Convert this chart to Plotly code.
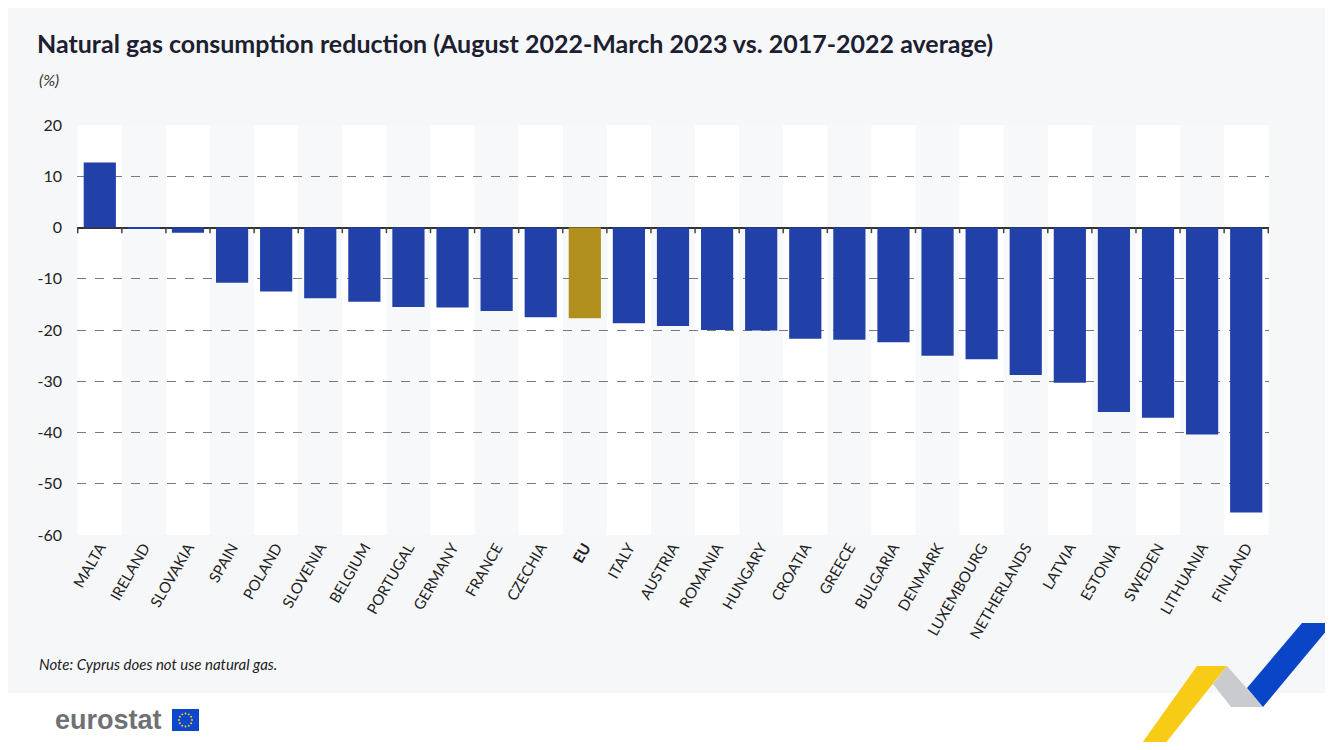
import math
import plotly.graph_objects as go

countries = ['MALTA', 'IRELAND', 'SLOVAKIA', 'SPAIN', 'POLAND', 'SLOVENIA', 'BELGIUM',
             'PORTUGAL', 'GERMANY', 'FRANCE', 'CZECHIA', 'EU', 'ITALY', 'AUSTRIA',
             'ROMANIA', 'HUNGARY', 'CROATIA', 'GREECE', 'BULGARIA', 'DENMARK',
             'LUXEMBOURG', 'NETHERLANDS', 'LATVIA', 'ESTONIA', 'SWEDEN', 'LITHUANIA', 'FINLAND']
reduction = [12.7, -0.2, -1.0, -10.8, -12.5, -13.8, -14.5, -15.5, -15.6, -16.3, -17.5,
             -17.7, -18.7, -19.2, -20.0, -20.1, -21.7, -21.9, -22.4, -25.0, -25.7,
             -28.8, -30.3, -36.0, -37.1, -40.4, -55.6]
y_ticks = [-60, -50, -40, -30, -20, -10, 0, 10, 20]

# the page body has an 8px margin, so the figure sits at (8, 8) of the 1333x750 window
OFF = 8
W, H = 1333 - 2 * OFF, 750 - 2 * OFF
# plot area in window pixels: x 77..1269, y 125..535
L, T = 77 - OFF, 125 - OFF
R, B = W - (1269 - OFF), H - (535 - OFF)
PW, PH = W - L - R, H - T - B


def px(x):
    # window pixel x -> paper
    return (x - OFF - L) / PW


def py(y):
    # window pixel y -> paper
    return (H - B - (y - OFF)) / PH


FONT = "Lato, 'Open Sans', sans-serif"
BLUE = "#2140a8"
GOLD = "#b08f1c"

colors = [GOLD if c == 'EU' else BLUE for c in countries]
ticktext = ['<b>EU</b>' if c == 'EU' else c for c in countries]

fig = go.Figure()
fig.add_trace(go.Bar(x=countries, y=reduction, marker=dict(color=colors, line=dict(width=0)),
                     hovertemplate='%{x}: %{y}%<extra></extra>'))

shapes = []
# footer white strip
shapes.append(dict(type='rect', xref='paper', yref='paper', x0=px(0), x1=px(1333), y0=py(760), y1=py(693),
                   fillcolor='white', line=dict(width=0), layer='below'))
# alternating column bands
for i in range(len(countries)):
    if i % 2 == 0:
        shapes.append(dict(type='rect', xref='x', yref='paper', x0=i - 0.5, x1=i + 0.5, y0=0, y1=1,
                           fillcolor='white', line=dict(width=0), layer='below'))
# tick marks on the zero line at category boundaries
for i in range(len(countries) + 1):
    shapes.append(dict(type='line', xref='x', yref='y', x0=i - 0.5, x1=i - 0.5, y0=0, y1=-1.1,
                       line=dict(color='#444', width=1.5)))


# decorative ribbon bottom right
def path(points):
    return 'M ' + ' L '.join(f'{px(a)},{py(b)}' for a, b in points) + ' Z'


shapes.append(dict(type='path', xref='paper', yref='paper',
                   path=path([(1137, 750), (1160, 750), (1227, 666), (1197, 666)]),
                   fillcolor='#f7cb16', line=dict(width=0)))
shapes.append(dict(type='path', xref='paper', yref='paper',
                   path=path([(1213, 684), (1227, 666), (1263, 707), (1231, 707)]),
                   fillcolor='#c9cbcf', line=dict(width=0)))
shapes.append(dict(type='path', xref='paper', yref='paper',
                   path=path([(1247, 688), (1302, 623), (1333, 623), (1263, 707)]),
                   fillcolor='#0a45c7', line=dict(width=0)))

# EU flag of eurostat logo
shapes.append(dict(type='rect', xref='paper', yref='paper', x0=px(172), x1=px(199), y0=py(731), y1=py(709),
                   fillcolor='#0e47cb', line=dict(width=0)))
for k in range(12):
    a = 2 * math.pi * k / 12
    cx, cy = 185.5 + 6.5 * math.cos(a), 720 + 6.5 * math.sin(a)
    shapes.append(dict(type='circle', xref='paper', yref='paper', x0=px(cx - 0.9), x1=px(cx + 0.9),
                       y0=py(cy + 0.9), y1=py(cy - 0.9), fillcolor='#ffdd00', line=dict(width=0)))

annotations = [
    dict(text='<b>Natural gas consumption reduction (August 2022-March 2023 vs. 2017-2022 average)</b>',
         xref='paper', yref='paper', x=px(35), y=py(43), xanchor='left', yanchor='middle',
         showarrow=False, font=dict(family=FONT, size=25, color='#1c2030')),
    dict(text='<i>(%)</i>', xref='paper', yref='paper', x=px(37), y=py(80), xanchor='left', yanchor='middle',
         showarrow=False, font=dict(family=FONT, size=16, color='#333')),
    dict(text='<i>Note: Cyprus does not use natural gas.</i>', xref='paper', yref='paper', x=px(37), y=py(664),
         xanchor='left', yanchor='middle', showarrow=False, font=dict(family=FONT, size=15, color='#222')),
    dict(text='<b>eurostat</b>', xref='paper', yref='paper', x=px(53), y=py(720), xanchor='left',
         yanchor='middle', showarrow=False, font=dict(family='Liberation Sans, Arial, sans-serif', size=27,
                                                      color='#6f7174')),
]

fig.update_layout(
    width=W, height=H,
    margin=dict(l=L, r=R, t=T, b=B, pad=0),
    paper_bgcolor='#f6f7f9',
    plot_bgcolor='#f7f8f9',
    bargap=0.27,
    showlegend=False,
    shapes=shapes,
    annotations=annotations,
    xaxis=dict(tickvals=countries, ticktext=ticktext, tickangle=-60, showgrid=False, showline=False,
               ticks='', tickfont=dict(family=FONT, size=15, color='#222'), fixedrange=True),
    yaxis=dict(range=[-60, 20], tickvals=y_ticks, ticktext=[str(v) for v in y_ticks],
               showgrid=True, gridcolor='#7a7a7a', griddash='dash',
               gridwidth=1, zeroline=True, zerolinecolor='#333', zerolinewidth=1.5, showline=False,
               ticks='', ticklabelstandoff=14, tickfont=dict(family=FONT, size=16, color='#222'),
               fixedrange=True),
    font=dict(family=FONT),
)

fig.write_html("out.html")
